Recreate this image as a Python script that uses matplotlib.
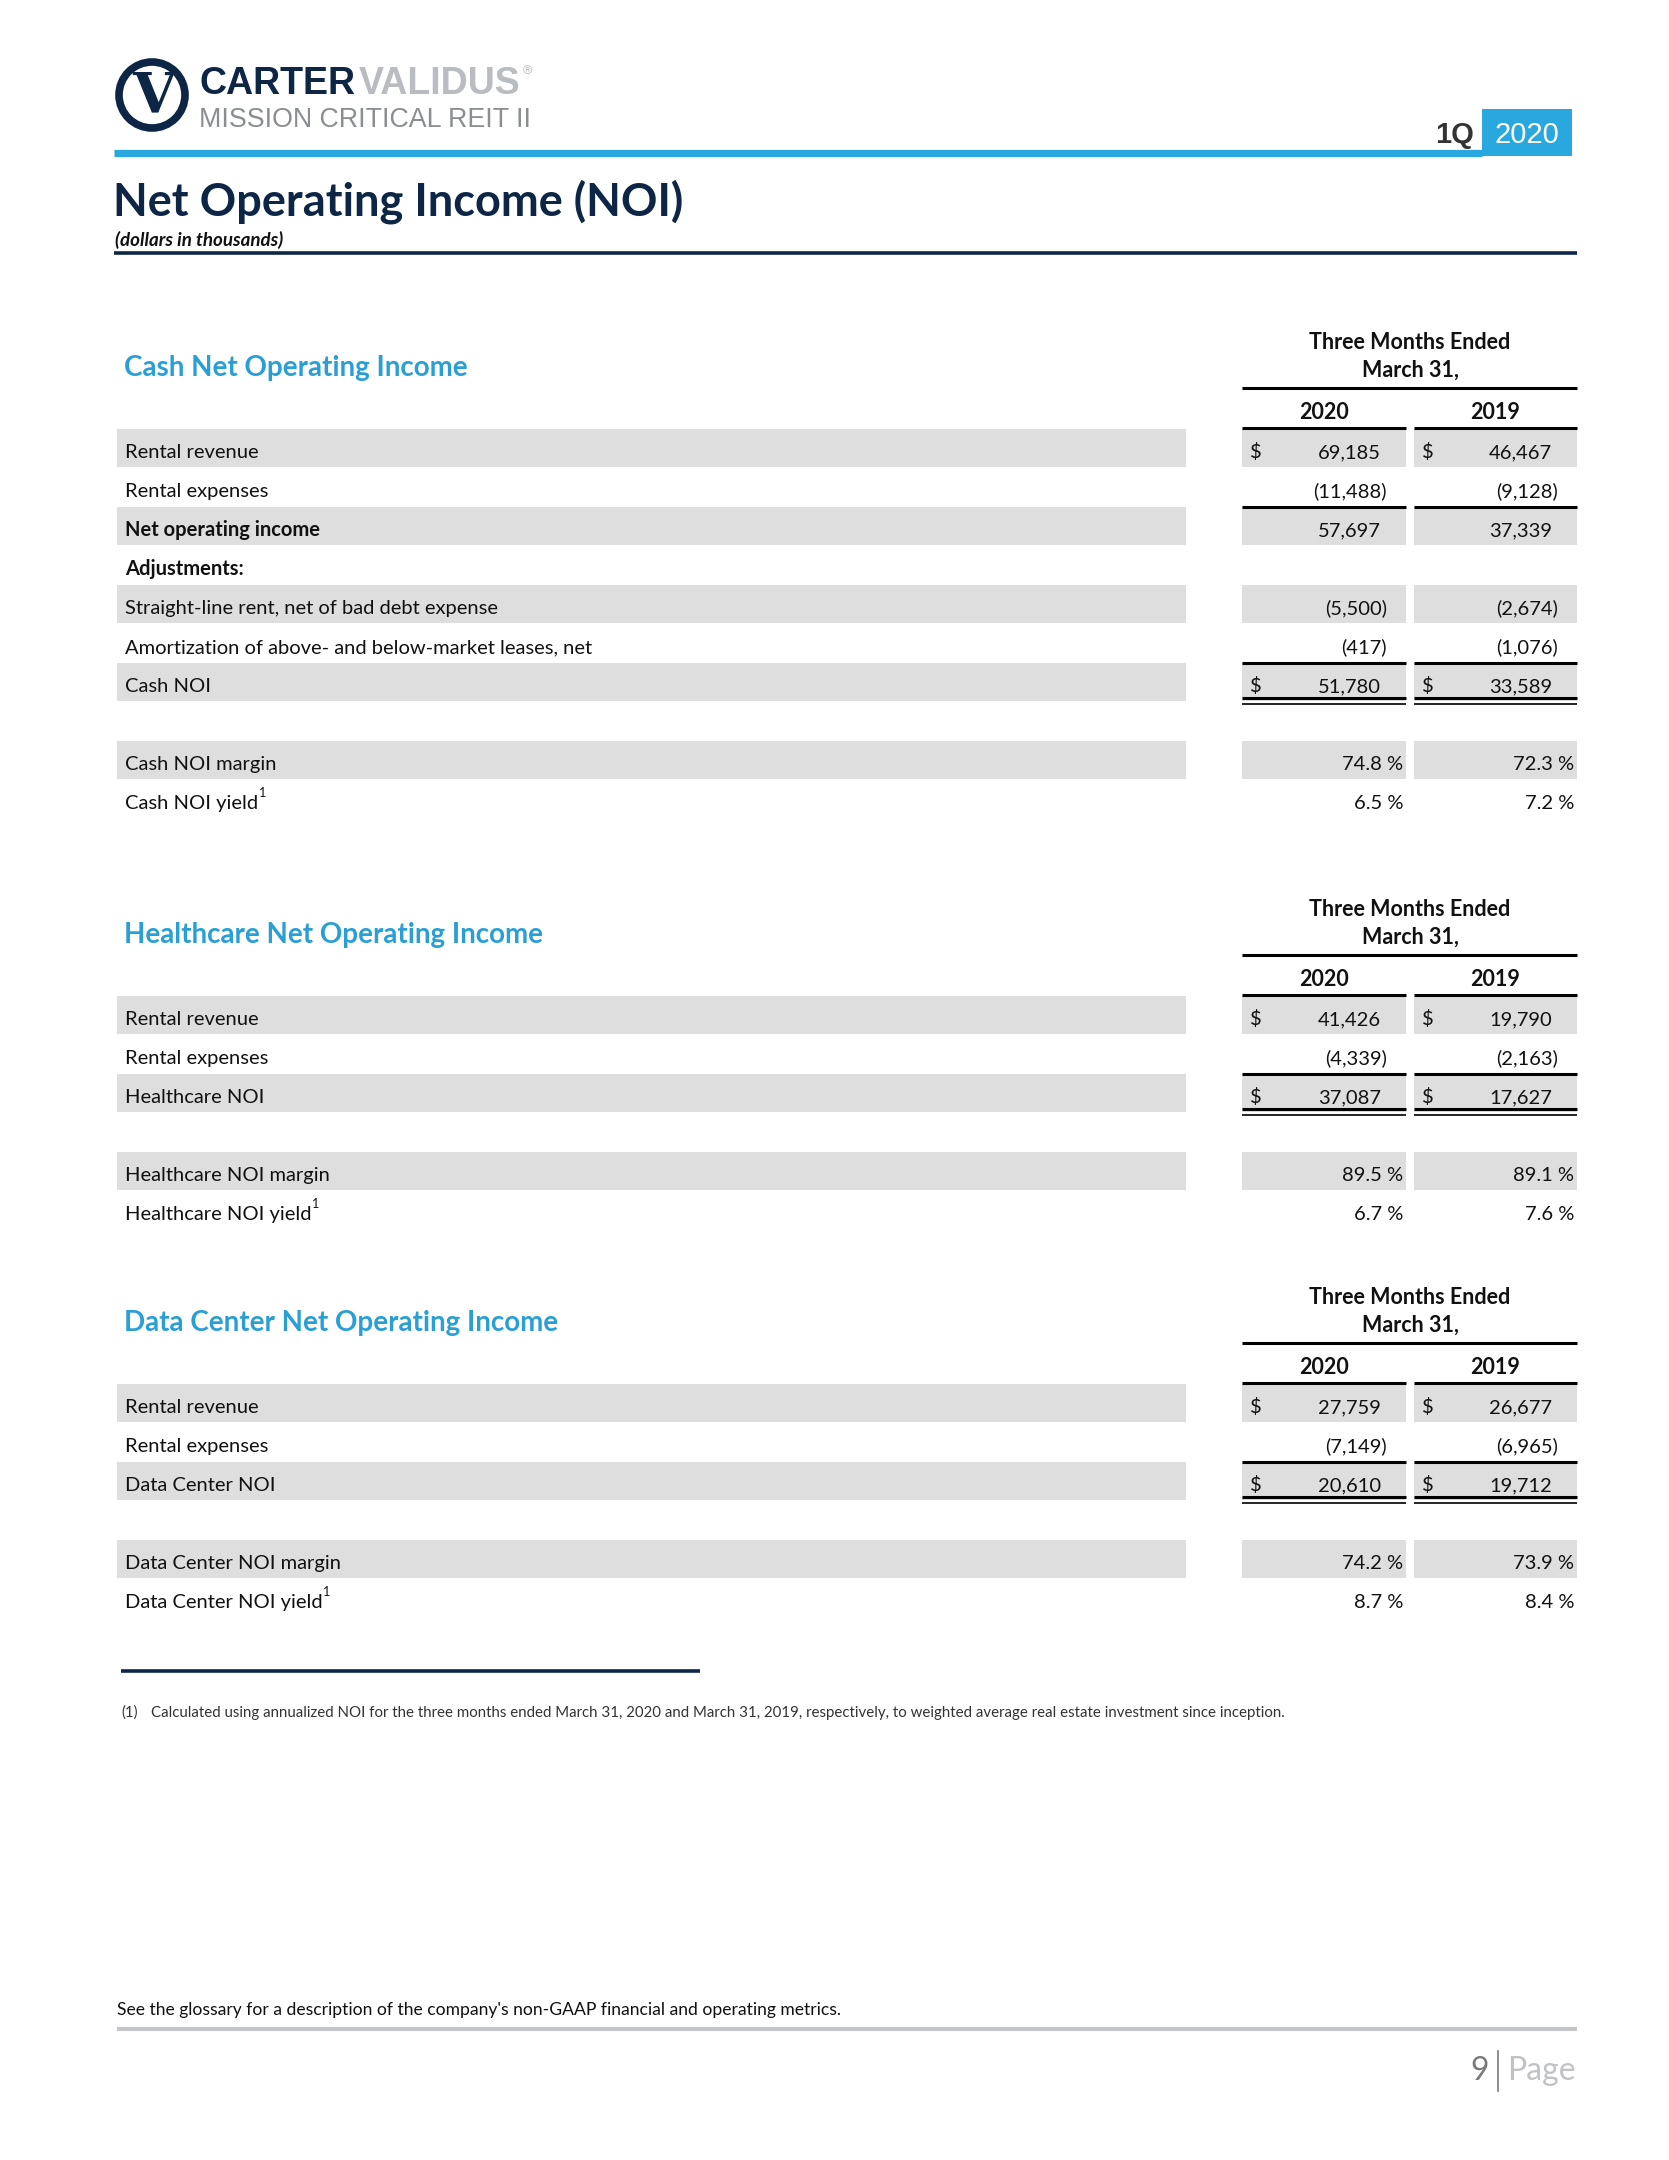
import matplotlib.pyplot as plt
from matplotlib.patches import Rectangle, Circle

# --- data (dollars in thousands) ---
years = ["2020", "2019"]

cash_title = "Cash Net Operating Income"
cash_labels = ["Rental revenue", "Rental expenses", "Net operating income", "Adjustments:",
               "Straight-line rent, net of bad debt expense",
               "Amortization of above- and below-market leases, net", "Cash NOI", "",
               "Cash NOI margin", "Cash NOI yield"]
cash_2020 = [69185, -11488, 57697, None, -5500, -417, 51780, None, 74.8, 6.5]
cash_2019 = [46467, -9128, 37339, None, -2674, -1076, 33589, None, 72.3, 7.2]

hc_title = "Healthcare Net Operating Income"
hc_labels = ["Rental revenue", "Rental expenses", "Healthcare NOI", "",
             "Healthcare NOI margin", "Healthcare NOI yield"]
hc_2020 = [41426, -4339, 37087, None, 89.5, 6.7]
hc_2019 = [19790, -2163, 17627, None, 89.1, 7.6]

dc_title = "Data Center Net Operating Income"
dc_labels = ["Rental revenue", "Rental expenses", "Data Center NOI", "",
             "Data Center NOI margin", "Data Center NOI yield"]
dc_2020 = [27759, -7149, 20610, None, 74.2, 8.7]
dc_2019 = [26677, -6965, 19712, None, 73.9, 8.4]

footnote = ("Calculated using annualized NOI for the three months ended March 31, 2020 and March 31, 2019, "
            "respectively, to weighted average real estate investment since inception.")
glossary = "See the glossary for a description of the company's non-GAAP financial and operating metrics."

# --- page setup, drawn in pixel coordinates ---
W, H = 1669, 2160
fig = plt.figure(figsize=(W / 100, H / 100), dpi=100)
ax = fig.add_axes([0, 0, 1, 1])
ax.set_xlim(0, W)
ax.set_ylim(H, 0)
ax.axis("off")
rend = fig.canvas.get_renderer()

NAVY = "#0e2645"
BLUE = "#29a8e0"
SECT = "#2a9fd6"
BAND = "#dedede"
INK = "#111111"
F = "Lato"
FS = 14.5     # body size
FH = 15.5     # column header size


def hline(x0, x1, y, lw, color="black"):
    ax.plot([x0, x1], [y, y], color=color, lw=lw, solid_capstyle="butt")


def right_of(t):
    return t.get_window_extent(renderer=rend).x1


# header / logo
ax.add_patch(Circle((152, 95), 33, facecolor="white", edgecolor=NAVY, lw=5.5))
ax.text(154, 97, "V", fontsize=40, fontweight="bold", family="DejaVu Serif", color=NAVY,
        ha="center", va="center")
t = ax.text(199, 94, "CARTER", fontsize=27, fontweight="bold", family="Liberation Sans", color=NAVY)
t = ax.text(right_of(t) + 4, 94, "VALIDUS", fontsize=27, fontweight="bold",
            family="Liberation Sans", color="#b9bcc0")
ax.text(right_of(t) + 2, 74, "®", fontsize=9, family="Liberation Sans", color="#b9bcc0")
ax.text(199, 127, "MISSION CRITICAL REIT II", fontsize=19.3, family="Liberation Sans",
        color="#8a8d91")

hline(114, 1482, 152.5, 5.2, BLUE)
ax.add_patch(Rectangle((1482, 109), 90, 47, facecolor=BLUE, edgecolor="none"))
ax.text(1474, 143, "1Q", fontsize=21, fontweight="bold", family="Liberation Sans",
        color="#333333", ha="right")
ax.text(1527, 143, "2020", fontsize=21, family="Liberation Sans", color="white", ha="center")

ax.text(113, 216, "Net Operating Income (NOI)", fontsize=32.5, fontweight="bold", family=F, color=NAVY)
ax.text(115, 246, "(dollars in thousands)", fontsize=13.5, fontweight="bold", style="italic",
        family=F, color=INK)
hline(114, 1577, 253, 2.6, NAVY)

ROW = 39
COLS = [(1242, 1406), (1414, 1577)]


def money(v):
    return "({:,})".format(-v) if v < 0 else "{:,}".format(v)


def draw_section(title, labels, v20, v19, y0, dollar_rows, bold_rows, band_rows,
                 rule_rows, total_row, pct_rows):
    ax.text(124, y0 - 72, title, fontsize=20, fontweight="bold", family=F, color=SECT)
    ax.text(1410, y0 - 99, "Three Months Ended", fontsize=FH, fontweight="bold", family=F,
            color=INK, ha="center")
    ax.text(1410, y0 - 71, "March 31,", fontsize=FH, fontweight="bold", family=F,
            color=INK, ha="center")
    hline(COLS[0][0], COLS[1][1], y0 - 60, 2.2)
    for (c0, c1), yr in zip(COLS, years):
        ax.text((c0 + c1) / 2, y0 - 29, yr, fontsize=FH, fontweight="bold", family=F,
                color=INK, ha="center")
        hline(c0, c1, y0 - 20, 2.2)

    for i, lab in enumerate(labels):
        c = y0 + i * ROW
        if i in band_rows:
            ax.add_patch(Rectangle((117, c - 19), 1069, 38, facecolor=BAND, edgecolor="none"))
            for c0, c1 in COLS:
                ax.add_patch(Rectangle((c0, c - 19), c1 - c0, 38, facecolor=BAND, edgecolor="none"))
        if lab:
            t = ax.text(125, c + 10, lab, fontsize=FS, family=F, color=INK,
                        fontweight="bold" if i in bold_rows else "normal")
            if i == len(labels) - 1:
                ax.text(right_of(t) + 0.5, c - 2, "1", fontsize=9, family=F, color=INK)
        for (c0, c1), vals in zip(COLS, (v20, v19)):
            v = vals[i]
            if v is None:
                continue
            if i in pct_rows:
                ax.text(c1 - 3, c + 10, "{:.1f} %".format(v), fontsize=FS, family=F,
                        color=INK, ha="right")
                continue
            if i in dollar_rows:
                ax.text(c0 + 8, c + 10, "$", fontsize=FS, family=F, color=INK)
            xr = c1 - 19 if v < 0 else c1 - 25
            ax.text(xr, c + 10, money(v), fontsize=FS, family=F, color=INK, ha="right")
        if i in rule_rows:
            for c0, c1 in COLS:
                hline(c0, c1, c - 19, 2.2)
        if i == total_row:
            for c0, c1 in COLS:
                hline(c0, c1, c + 16, 2.2)
                hline(c0, c1, c + 22, 1.2)


draw_section(cash_title, cash_labels, cash_2020, cash_2019, 448,
             dollar_rows=[0, 6], bold_rows=[2, 3], band_rows=[0, 2, 4, 6, 8],
             rule_rows=[2, 6], total_row=6, pct_rows=[8, 9])
draw_section(hc_title, hc_labels, hc_2020, hc_2019, 1015,
             dollar_rows=[0, 2], bold_rows=[], band_rows=[0, 2, 4],
             rule_rows=[2], total_row=2, pct_rows=[4, 5])
draw_section(dc_title, dc_labels, dc_2020, dc_2019, 1403,
             dollar_rows=[0, 2], bold_rows=[], band_rows=[0, 2, 4],
             rule_rows=[2], total_row=2, pct_rows=[4, 5])

# footnote
hline(121, 700, 1671, 2.6, NAVY)
ax.text(121, 1717, "(1)", fontsize=10.8, family=F, color="#333333")
ax.text(151, 1717, footnote, fontsize=10.8, family=F, color="#333333")

# footer
ax.text(117, 2015, glossary, fontsize=12.6, family=F, color=INK)
hline(117, 1577, 2029, 3, "#c4c6c9")
ax.text(1489, 2080, "9", fontsize=23, family=F, color="#7a7a7a", ha="right")
ax.plot([1498, 1498], [2051, 2091], color="#7a7a7a", lw=1.2)
ax.text(1507, 2080, "Page", fontsize=23, family=F, color="#c0c2c5")

fig.savefig("out.png", dpi=100, facecolor="white")
